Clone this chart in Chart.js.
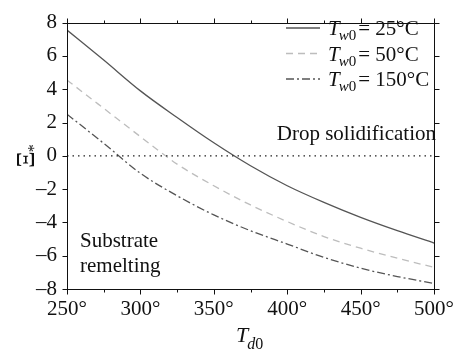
<!DOCTYPE html>
<html>
<head>
<meta charset="utf-8">
<script src="https://cdn.jsdelivr.net/npm/chart.js@4.4.1/dist/chart.umd.min.js"></script>
<style>
  html, body { margin: 0; padding: 0; background: #fff; }
  #wrap { width: 462px; height: 359px; }
</style>
</head>
<body>
<div id="wrap"><canvas id="grafico" width="462" height="359"></canvas></div>
<script>
// Dados
const temperaturas = [250, 275, 300, 325, 350, 375, 400, 425, 450, 475, 500];
const xi25 = [7.55, 5.75, 3.9, 2.3, 0.78, -0.6, -1.8, -2.8, -3.7, -4.5, -5.24];
const xi50 = [4.55, 2.85, 1.15, -0.5, -1.8, -2.95, -3.95, -4.85, -5.55, -6.15, -6.7];
const xi150 = [2.5, 0.75, -1.05, -2.4, -3.55, -4.5, -5.3, -6.1, -6.75, -7.25, -7.67];
const linhaZeroX = [250, 500];
const linhaZeroY = [0, 0];
const rotulosLegenda = ['25°C', '50°C', '150°C'];
const xTicks = [250, 300, 350, 400, 450, 500];
const xTicksMenores = [275, 325, 375, 425, 475];
const yTicks = [-8, -6, -4, -2, 0, 2, 4, 6, 8];

const SERIF = "'Liberation Serif', 'DejaVu Serif', serif";
Chart.defaults.font.family = SERIF;
Chart.defaults.font.size = 21;
Chart.defaults.color = '#111';

function pontos(xs, ys) {
  return xs.map((x, i) => ({ x: x, y: ys[i] }));
}

const estilos = [
  { cor: '#555', dash: [] },
  { cor: '#bdbdbd', dash: [7, 5] },
  { cor: '#555', dash: [8, 3, 2, 3] }
];

/**
 * Moldura, ticks externos, legenda e textos
 */
const extras = {
  id: 'extras',
  afterDraw(chart) {
    const ctx = chart.ctx;
    const x = chart.scales.x, y = chart.scales.y;
    const L = Math.round(x.getPixelForValue(250)) + 0.5;
    const R = Math.round(x.getPixelForValue(500)) + 0.5;
    const T = Math.round(y.getPixelForValue(8)) + 0.5;
    const B = Math.round(y.getPixelForValue(-8)) + 0.5;
    ctx.save();
    ctx.strokeStyle = '#111';
    ctx.lineWidth = 1;
    ctx.beginPath();
    ctx.moveTo(L - 4, T); ctx.lineTo(R + 4, T);
    ctx.moveTo(L - 4, B); ctx.lineTo(R + 4, B);
    ctx.moveTo(L, T - 4); ctx.lineTo(L, B + 4);
    ctx.moveTo(R, T - 4); ctx.lineTo(R, B + 4);
    xTicks.forEach(v => {
      const px = Math.round(x.getPixelForValue(v)) + 0.5;
      ctx.moveTo(px, B); ctx.lineTo(px, B + 5);
      ctx.moveTo(px, T); ctx.lineTo(px, T - 5);
    });
    xTicksMenores.forEach(v => {
      const px = Math.round(x.getPixelForValue(v)) + 0.5;
      ctx.moveTo(px, B); ctx.lineTo(px, B + 3);
      ctx.moveTo(px, T); ctx.lineTo(px, T - 3);
    });
    yTicks.forEach(v => {
      const py = Math.round(y.getPixelForValue(v)) + 0.5;
      ctx.moveTo(L, py); ctx.lineTo(L - 5, py);
      ctx.moveTo(R, py); ctx.lineTo(R + 5, py);
    });
    ctx.stroke();

    // Legenda
    ctx.fillStyle = '#111';
    ctx.textBaseline = 'alphabetic';
    rotulosLegenda.forEach((rot, i) => {
      const yc = 28 + i * 25.5;
      ctx.strokeStyle = estilos[i].cor;
      ctx.lineWidth = 1.3;
      ctx.setLineDash(estilos[i].dash);
      ctx.beginPath();
      ctx.moveTo(286, yc); ctx.lineTo(320, yc);
      ctx.stroke();
      ctx.setLineDash([]);
      let tx = 328;
      const base = yc + 7;
      ctx.font = 'italic 21px ' + SERIF;
      ctx.fillText('T', tx, base); tx += ctx.measureText('T').width - 1;
      ctx.font = 'italic 15px ' + SERIF;
      ctx.fillText('w', tx, base + 5); tx += ctx.measureText('w').width;
      ctx.font = '15px ' + SERIF;
      ctx.fillText('0', tx, base + 5); tx += ctx.measureText('0').width + 2;
      ctx.font = '21px ' + SERIF;
      ctx.fillText('= ' + rot, tx, base);
    });

    // Anotações
    ctx.font = '21px ' + SERIF;
    ctx.textAlign = 'right';
    ctx.fillText('Drop solidification', 436, 140);
    ctx.textAlign = 'left';
    ctx.fillText('Substrate', 80, 247);
    ctx.fillText('remelting', 80, 272);

    // Título eixo x
    let tx = 236;
    ctx.font = 'italic 22px ' + SERIF;
    ctx.fillText('T', tx, 342); tx += ctx.measureText('T').width - 1;
    ctx.font = 'italic 16px ' + SERIF;
    ctx.fillText('d', tx, 349); tx += ctx.measureText('d').width;
    ctx.font = '16px ' + SERIF;
    ctx.fillText('0', tx, 349);

    // Título eixo y
    ctx.translate(34, 168);
    ctx.rotate(-Math.PI / 2);
    ctx.font = '26px ' + SERIF;
    ctx.fillText('\u039E', 0, 0);
    const w = ctx.measureText('\u039E').width;
    ctx.font = '16px ' + SERIF;
    ctx.fillText('*', w - 1, 5);
    ctx.restore();
  }
};

new Chart(document.getElementById('grafico'), {
  type: 'scatter',
  data: {
    datasets: [
      {
        data: pontos(linhaZeroX, linhaZeroY),
        showLine: true,
        borderColor: '#222',
        borderWidth: 1.2,
        borderDash: [1.5, 4],
        pointRadius: 0
      },
      {
        data: pontos(temperaturas, xi25),
        showLine: true,
        borderColor: estilos[0].cor,
        borderWidth: 1.3,
        pointRadius: 0,
        cubicInterpolationMode: 'monotone'
      },
      {
        data: pontos(temperaturas, xi50),
        showLine: true,
        borderColor: estilos[1].cor,
        borderWidth: 1.3,
        borderDash: estilos[1].dash,
        pointRadius: 0,
        cubicInterpolationMode: 'monotone'
      },
      {
        data: pontos(temperaturas, xi150),
        showLine: true,
        borderColor: estilos[2].cor,
        borderWidth: 1.3,
        borderDash: estilos[2].dash,
        pointRadius: 0,
        cubicInterpolationMode: 'monotone'
      }
    ]
  },
  options: {
    responsive: false,
    animation: false,
    layout: { padding: { left: 0, top: 12, right: 19, bottom: 0 } },
    plugins: { legend: { display: false }, tooltip: { enabled: false } },
    scales: {
      x: {
        type: 'linear',
        min: 250,
        max: 500,
        grid: { display: false, drawTicks: false },
        border: { display: false },
        afterBuildTicks: s => { s.ticks = xTicks.map(v => ({ value: v })); },
        afterFit: s => { s.height = 70; },
        ticks: { padding: 8, maxRotation: 0, callback: v => v + '°' }
      },
      y: {
        min: -8,
        max: 8,
        grid: { display: false, drawTicks: false },
        border: { display: false },
        afterBuildTicks: s => { s.ticks = yTicks.map(v => ({ value: v })); },
        afterFit: s => { s.width = 67; },
        ticks: { padding: 10, callback: v => (v < 0 ? '\u2013' + Math.abs(v) : String(v)) }
      }
    }
  },
  plugins: [extras]
});
</script>
</body>
</html>
